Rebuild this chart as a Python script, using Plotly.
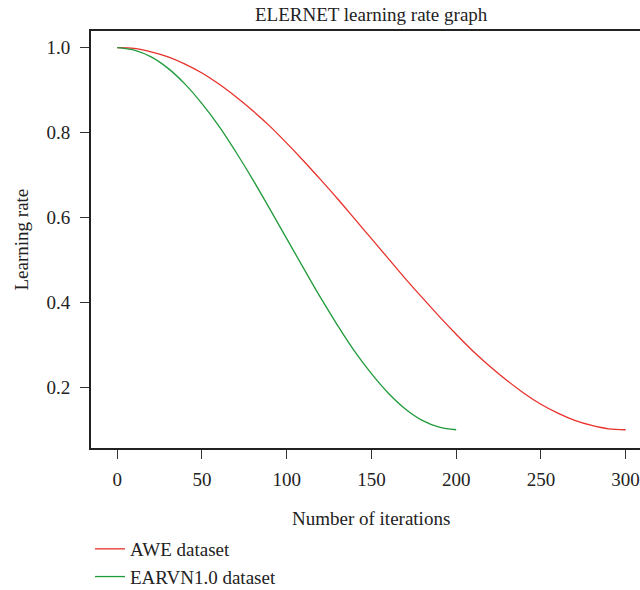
import plotly.graph_objects as go

# Learning-rate schedules (value per iteration, sampled every 10 iterations)
awe_iter = list(range(0, 301, 10))
awe_lr = [1.000, 0.998, 0.990, 0.978, 0.961, 0.940, 0.914, 0.884, 0.851, 0.815,
          0.775, 0.733, 0.689, 0.644, 0.597, 0.550, 0.503, 0.456, 0.411, 0.367,
          0.325, 0.285, 0.249, 0.216, 0.186, 0.160, 0.139, 0.122, 0.110, 0.102,
          0.100]

earvn_iter = list(range(0, 201, 10))
earvn_lr = [1.000, 0.994, 0.978, 0.951, 0.914, 0.868, 0.815, 0.754, 0.689, 0.620,
            0.550, 0.480, 0.411, 0.346, 0.285, 0.232, 0.186, 0.149, 0.122, 0.106,
            0.100]

x_ticks = [0, 50, 100, 150, 200, 250, 300]
y_ticks = [0.2, 0.4, 0.6, 0.8, 1.0]
y_ticktext = ["0.2", "0.4", "0.6", "0.8", "1.0"]

FONT = "Liberation Serif"
FSIZE = 19
TXT = "#222"
RED = "#e8302a"
GREEN = "#1f9a3a"

W, H = 640, 590
L, R, T, B = 91, 0, 31, 142
PW = W - L - R

fig = go.Figure()
fig.add_trace(go.Scatter(x=awe_iter, y=awe_lr, mode="lines", name="AWE dataset",
                         line=dict(color=RED, width=1.3, shape="spline")))
fig.add_trace(go.Scatter(x=earvn_iter, y=earvn_lr, mode="lines", name="EARVN1.0 dataset",
                         line=dict(color=GREEN, width=1.3, shape="spline")))

# plot area spans x -15.5..315; the window cuts it at ~308.5
x_lo, x_hi = -15.5, 308.5
tick_font = dict(family=FONT, size=FSIZE, color=TXT)
fig.update_layout(
    width=W, height=H,
    margin=dict(l=L, r=R, t=T, b=B),
    paper_bgcolor="white", plot_bgcolor="white",
    font=dict(family=FONT, size=FSIZE, color=TXT),
    showlegend=True,
    legend=dict(x=(90 - L) / PW, xanchor="left",
                yref="container", y=1 - 530 / H, yanchor="top",
                orientation="v", bgcolor="rgba(0,0,0,0)",
                font=dict(family=FONT, size=FSIZE, color=TXT),
                tracegroupgap=0, itemwidth=30),
    xaxis=dict(range=[x_lo, x_hi], tickvals=x_ticks, ticks="outside", ticklen=9,
               tickcolor="#333", tickwidth=1, showgrid=False, zeroline=False,
               showline=True, linecolor=TXT, linewidth=2, mirror=True,
               ticklabelstandoff=4, tickfont=tick_font),
    yaxis=dict(range=[0.057, 1.039], tickvals=y_ticks, ticktext=y_ticktext,
               ticks="outside", ticklen=9, tickcolor="#333", tickwidth=1,
               showgrid=False, zeroline=False, showline=True, linecolor=TXT,
               linewidth=2, mirror=False, ticklabelstandoff=6, tickfont=tick_font),
)

# Titles centred on the full plot area (which extends past the right edge)
centre = (371 - L) / PW
fig.add_annotation(text="ELERNET learning rate graph", xref="paper", yref="paper",
                   x=centre, y=1.0, yshift=17, xanchor="center", yanchor="middle",
                   showarrow=False, font=tick_font)
fig.add_annotation(text="Number of iterations", xref="paper", yref="paper",
                   x=centre, y=0, yshift=-70, xanchor="center", yanchor="middle",
                   showarrow=False, font=tick_font)
fig.add_annotation(text="Learning rate", xref="paper", yref="paper",
                   x=(21 - L) / PW, y=0.5, xanchor="center", yanchor="middle",
                   textangle=-90, showarrow=False, font=tick_font)

fig.write_html("out.html")
